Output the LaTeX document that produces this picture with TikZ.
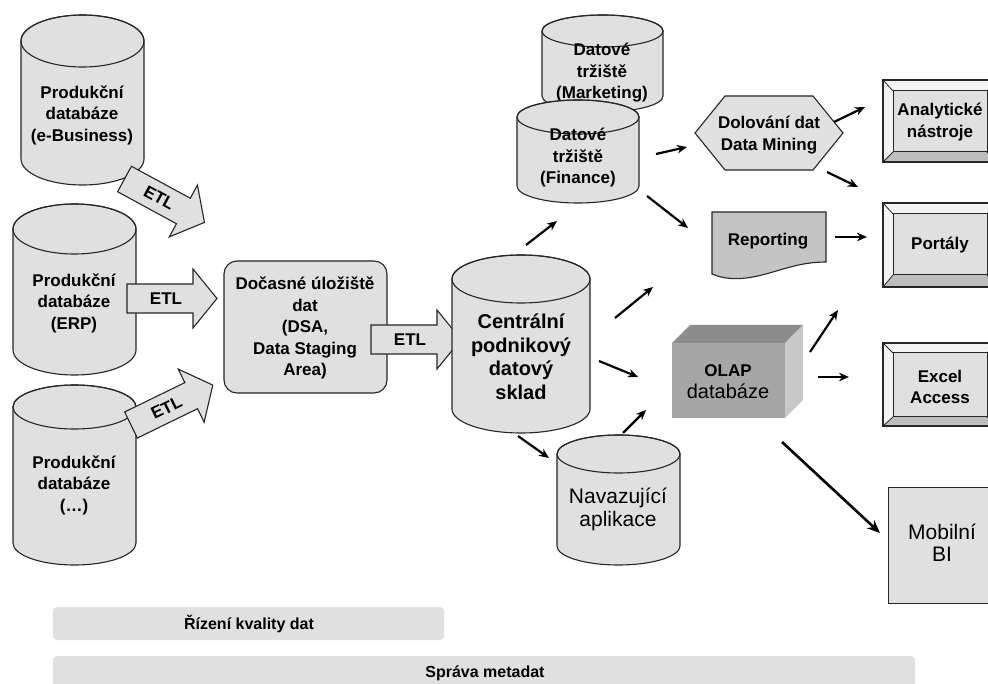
\documentclass[tikz,border=0pt]{standalone}
\usepackage{fontspec}
\setmainfont{Liberation Sans}
\usetikzlibrary{arrows.meta}

\definecolor{shapegray}{HTML}{E0E0E0}
\definecolor{docgray}{HTML}{C4C4C4}
\definecolor{edgegray}{HTML}{262626}
\definecolor{bevlight}{HTML}{F4F4F4}
\definecolor{bevdark}{HTML}{BDBDBD}
\definecolor{cubefront}{HTML}{A6A6A6}
\definecolor{cubetop}{HTML}{8C8C8C}
\definecolor{cubeside}{HTML}{C8C8C8}

\tikzset{
  cylfill/.style={fill=shapegray,draw=edgegray,line width=1.1pt},
  cylline/.style={draw=edgegray,line width=1.1pt},
  etlbody/.style={fill=shapegray,draw=edgegray,line width=1.1pt,line join=miter},
  etltext/.style={font=\fontsize{17}{20}\selectfont\bfseries,inner sep=0pt},
  lbl/.style={align=center,inner sep=0pt,font=\fontsize{17}{21.5}\selectfont\bfseries},
  lblbig/.style={align=center,inner sep=0pt,font=\fontsize{20}{23.5}\selectfont\bfseries},
  lblreg/.style={align=center,inner sep=0pt,font=\fontsize{21}{23}\selectfont},
  flow/.style={-{Stealth[length=10pt,width=8.5pt]},line width=2.2pt},
  flowbig/.style={-{Stealth[length=13pt,width=11pt]},line width=2.6pt},
  barbox/.style={fill=shapegray,rounded corners=4pt},
  barlbl/.style={inner sep=0pt,font=\fontsize{16}{18}\selectfont\bfseries},
}

% database cylinder: left, right, top, bottom (positive pixel rows), ellipse half-height
\newcommand\dbshape[5]{%
  \pgfmathsetmacro\cylcx{(#1+#2)/2}%
  \pgfmathsetmacro\cylrx{(#2-#1)/2}%
  \pgfmathsetmacro\cylyt{-(#3)-(#5)}%
  \pgfmathsetmacro\cylyb{-(#4)+(#5)}%
  \filldraw[cylfill] (#1,\cylyt) -- (#1,\cylyb)
    arc[start angle=180,end angle=360,x radius=\cylrx pt,y radius=#5pt]
    -- (#2,\cylyt)
    arc[start angle=0,end angle=180,x radius=\cylrx pt,y radius=#5pt] -- cycle;
  \draw[cylline] (\cylcx,\cylyt) ellipse[x radius=\cylrx pt,y radius=#5pt];
}

% wide ETL block arrow: label name, start x, start y, angle, length
\newcommand\etlarrow[5]{%
  \begin{scope}[shift={(#2,#3)},rotate=#4]
    \filldraw[etlbody] (0,-14.5) -- ({#5-24},-14.5) -- ({#5-24},-29.5) -- (#5,0)
      -- ({#5-24},29.5) -- ({#5-24},14.5) -- (0,14.5) -- cycle;
    \node[etltext,transform shape] (#1) at ({(#5-24)/2+6},0) {ETL};
  \end{scope}
}

% bevelled button: outer left, top, right, bottom; inner left, top, right, bottom
\newcommand\bevelbox[8]{%
  \fill[bevlight] (#1,-#2) -- (#3,-#2) -- (#7,-#6) -- (#5,-#6) -- cycle;
  \fill[bevlight] (#1,-#2) -- (#5,-#6) -- (#5,-#8) -- (#1,-#4) -- cycle;
  \fill[bevdark] (#1,-#4) -- (#5,-#8) -- (#7,-#8) -- (#3,-#4) -- cycle;
  \fill[bevdark] (#3,-#2) -- (#7,-#6) -- (#7,-#8) -- (#3,-#4) -- cycle;
  \filldraw[fill=shapegray,draw=edgegray,line width=1pt] (#5,-#6) rectangle (#7,-#8);
  \draw[edgegray,line width=1.1pt] (#1,-#2) rectangle (#3,-#4);
  \draw[edgegray,line width=0.8pt] (#1,-#2) -- (#5,-#6) (#3,-#2) -- (#7,-#6)
    (#1,-#4) -- (#5,-#8) (#3,-#4) -- (#7,-#8);
}

\begin{document}
\begin{tikzpicture}[x=1pt,y=1pt]
\useasboundingbox (0,0) rectangle (988,-684);
\clip (0,0) rectangle (988,-684);
\fill[white] (0,0) rectangle (988,-684);

% --- source databases ---
\dbshape{13}{136}{385}{565}{22}
\node[lbl] (srcother) at (74,-485) {Produkční\\databáze\\(\dots)};
\dbshape{13}{136}{204}{375}{25}
\node[lbl] (srcerp) at (74,-303) {Produkční\\databáze\\(ERP)};
\dbshape{21}{144}{15}{185}{26}
\node[lbl] (srcebiz) at (82,-115) {Produkční\\databáze\\(e-Business)};

% --- ETL into the staging area ---
\etlarrow{etlebiz}{124.5}{-179}{-28.5}{91}
\etlarrow{etlerp}{127}{-298.5}{0}{90}
\etlarrow{etlother}{131}{-425}{26}{91}

% --- staging area ---
\filldraw[fill=shapegray,draw=edgegray,line width=1.1pt,rounded corners=13pt]
  (224,-261) rectangle (387,-393);
\node[lbl] (dsa) at (305,-328) {Dočasné úložiště\\dat\\(DSA,\\Data Staging\\Area)};
\etlarrow{etlcentral}{371}{-339.5}{0}{90}

% --- central warehouse ---
\dbshape{452}{590}{255}{433}{24}
\node[lblbig] (central) at (521,-357) {Centrální\\podnikový\\datový\\sklad};

% --- data marts ---
\dbshape{542}{663}{15}{112}{16}
\node[lbl] (martmkt) at (602,-73) {Datové\\tržiště\\(Marketing)};
\dbshape{517}{639}{100}{203}{17}
\node[lbl] (martfin) at (578,-158) {Datové\\tržiště\\(Finance)};

% --- dependent applications ---
\dbshape{557}{680}{435}{565}{19}
\node[lblreg] (apps) at (618,-509) {Navazující\\aplikace};

% --- data mining ---
\filldraw[fill=shapegray,draw=edgegray,line width=1.1pt]
  (695,-133) -- (725,-96) -- (813,-96) -- (843,-133) -- (813,-170) -- (725,-170) -- cycle;
\node[lbl] (mining) at (769,-135) {Dolování dat\\Data Mining};

% --- reporting ---
\filldraw[fill=docgray,draw=edgegray,line width=1.1pt]
  (712,-212) -- (826,-212) -- (826,-262)
  .. controls (800,-262) and (782,-270) .. (762,-275)
  .. controls (742,-280) and (726,-280) .. (712,-274) -- cycle;
\node[lbl] (reporting) at (768,-241) {Reporting};

% --- OLAP cube ---
\fill[cubetop] (672,-343) -- (690,-325) -- (803,-325) -- (785,-343) -- cycle;
\fill[cubeside] (785,-343) -- (803,-325) -- (803,-400) -- (785,-418) -- cycle;
\fill[cubefront] (672,-343) rectangle (785,-418);
\node[align=center,inner sep=0pt,font=\fontsize{20}{22}\selectfont] (olap) at (728,-382)
  {\textbf{\fontsize{17}{22}\selectfont OLAP}\\databáze};

% --- front-end tools ---
\bevelbox{883}{80}{997}{162}{893}{91}{987}{152}
\node[lbl] (analytic) at (940,-122) {Analytické\\nástroje};
\bevelbox{883}{203}{997}{287}{893}{214}{987}{275}
\node[lbl] (portals) at (940,-245) {Portály};
\bevelbox{883}{343}{997}{426}{893}{353}{987}{417}
\node[lbl] (excel) at (940,-387) {Excel\\Access};
\filldraw[fill=shapegray,draw=edgegray,line width=1pt] (888,-487) rectangle (1000,-603);
\node[align=center,inner sep=0pt,font=\fontsize{21}{21.5}\selectfont] (mobile) at (942,-543) {Mobilní\\BI};

% --- flow arrows ---
\coordinate (f1s) at (526,-245);  \coordinate (f1e) at (557,-221);
\coordinate (f2s) at (656,-154);  \coordinate (f2e) at (687,-147);
\coordinate (f3s) at (647,-196);  \coordinate (f3e) at (688,-228);
\coordinate (f4s) at (834,-122);  \coordinate (f4e) at (865,-107);
\coordinate (f5s) at (827,-172);  \coordinate (f5e) at (858,-187);
\coordinate (f6s) at (835,-237);  \coordinate (f6e) at (867,-237);
\coordinate (f7s) at (615,-318);  \coordinate (f7e) at (653,-287);
\coordinate (f8s) at (599,-361);  \coordinate (f8e) at (638,-377);
\coordinate (f9s) at (623,-433);  \coordinate (f9e) at (646,-410);
\coordinate (f10s) at (518,-436); \coordinate (f10e) at (549,-458);
\coordinate (f11s) at (810,-352); \coordinate (f11e) at (838,-310);
\coordinate (f12s) at (818,-377); \coordinate (f12e) at (849,-377);
\coordinate (f13s) at (782,-442); \coordinate (f13e) at (880,-533);
\foreach \k in {1,...,12} { \draw[flow] (f\k s) -- (f\k e); }
\draw[flowbig] (f13s) -- (f13e);

% --- cross-cutting bars ---
\fill[barbox] (53,-607) rectangle (444,-640);
\node[barlbl] (quality) at (249,-624) {Řízení kvality dat};
\fill[barbox] (53,-656) rectangle (915,-700);
\node[barlbl] (metadata) at (485,-673) {Správa metadat};
\end{tikzpicture}
\end{document}
